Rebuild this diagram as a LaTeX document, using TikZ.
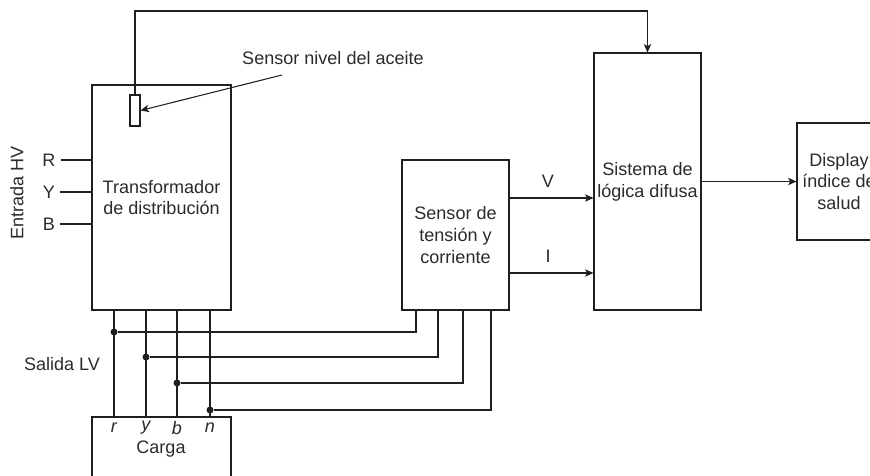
\documentclass[tikz,border=0pt]{standalone}
\usepackage{fontspec}
\setmainfont{Liberation Sans}
\usepackage{xcolor}
\usepackage{tikz}
\usetikzlibrary{positioning, arrows.meta}
\definecolor{wireInk}{HTML}{1F1F1F}
\definecolor{textInk}{HTML}{2B2B2B}
\newcommand{\blockfont}{\fontsize{15.4}{18.5}\selectfont}
\tikzset{
  wire/.style={draw=wireInk, line width=0.9pt},
  sigarrow/.style={wire, -{Stealth[length=0.25cm, width=0.22cm, inset=0.06cm]}},
}
\tikzset{
  block/.style={draw=wireInk, line width=0.9pt, fill=white, inner sep=0pt,
    align=center, font=\blockfont, text=textInk},
  lbl/.style={font=\blockfont, text=textInk, inner sep=1pt},
  phaselbl/.style={lbl, font=\blockfont\itshape},
  joint/.style={circle, fill=wireInk, inner sep=0pt, minimum size=0.21cm},
}

\begin{document}
\begin{tikzpicture}[x=0.03cm, y=-0.03cm]
  \useasboundingbox (0,0) rectangle (870,475);
  % blocks
  \node[block, minimum width=4.17cm, minimum height=6.75cm] (trafo) at (161.5,197.5) {Transformador\\de distribución};
  \node[block, minimum width=0.3cm, minimum height=0.93cm] (oil) at (135,110.5) {};
  \node[block, minimum width=3.21cm, minimum height=4.5cm] (vis) at (455.5,235) {Sensor de\\tensión y\\corriente};
  \node[block, minimum width=3.21cm, minimum height=7.71cm] (fuzzy) at (647.5,181.5) {Sistema de\\lógica difusa};
  \node[block, minimum width=2.52cm, minimum height=3.51cm] (disp) at (839,181.5) {Display\\índice de\\salud};
  \node[block, minimum width=4.17cm, minimum height=1.89cm] (carga) at (161.5,448.5) {};
  % oil level sensor
  \node[lbl] (oiltxt) at (333,58) {Sensor nivel del aceite};
  \coordinate (oiltail) at (282,75);
  \draw[sigarrow] (oiltail) -- (oil.east);
  \coordinate (topy) at (0,11);
  \draw[sigarrow] (oil.north) -- (oil.north |- topy) -| (fuzzy.north);
  % HV input
  \node[lbl, rotate=90] (hvin) at (17,193) {Entrada HV};
  \foreach \ph/\y in {R/160, Y/192, B/224} {
    \node[lbl, inner xsep=0.15cm] (in\ph) at (49,\y) {\ph};
    \draw[wire] (in\ph.east) -- (in\ph.east -| trafo.west);
  }
  % V and I
  \coordinate (vrow) at (0,198);
  \coordinate (irow) at (0,273);
  \draw[sigarrow] (vis.east |- vrow) -- (fuzzy.west |- vrow);
  \draw[sigarrow] (vis.east |- irow) -- (fuzzy.west |- irow);
  \node[lbl] (vlbl) at (548,181) {V};
  \node[lbl] (ilbl) at (548,256) {I};
  \draw[sigarrow] (fuzzy.east) -- (disp.west);
  % LV output
  \node[lbl] (lvout) at (62,364) {Salida LV};
  \foreach \ph/\x/\y/\xs in {r/114/332/416, y/146/357/438, b/177/383/463, n/210/410/491} {
    \node[joint] (j\ph) at (\x,\y) {};
    \coordinate (t\ph) at (\xs,\y);
    \draw[wire] (trafo.south -| j\ph) -- (carga.north -| j\ph);
    \draw[wire] (j\ph) -- (t\ph) -- (t\ph |- vis.south);
    \node[phaselbl] (l\ph) at (\x,428) {\ph};
  }
  \node[lbl] (cargatxt) at (161,449) {Carga};
\end{tikzpicture}
\end{document}
